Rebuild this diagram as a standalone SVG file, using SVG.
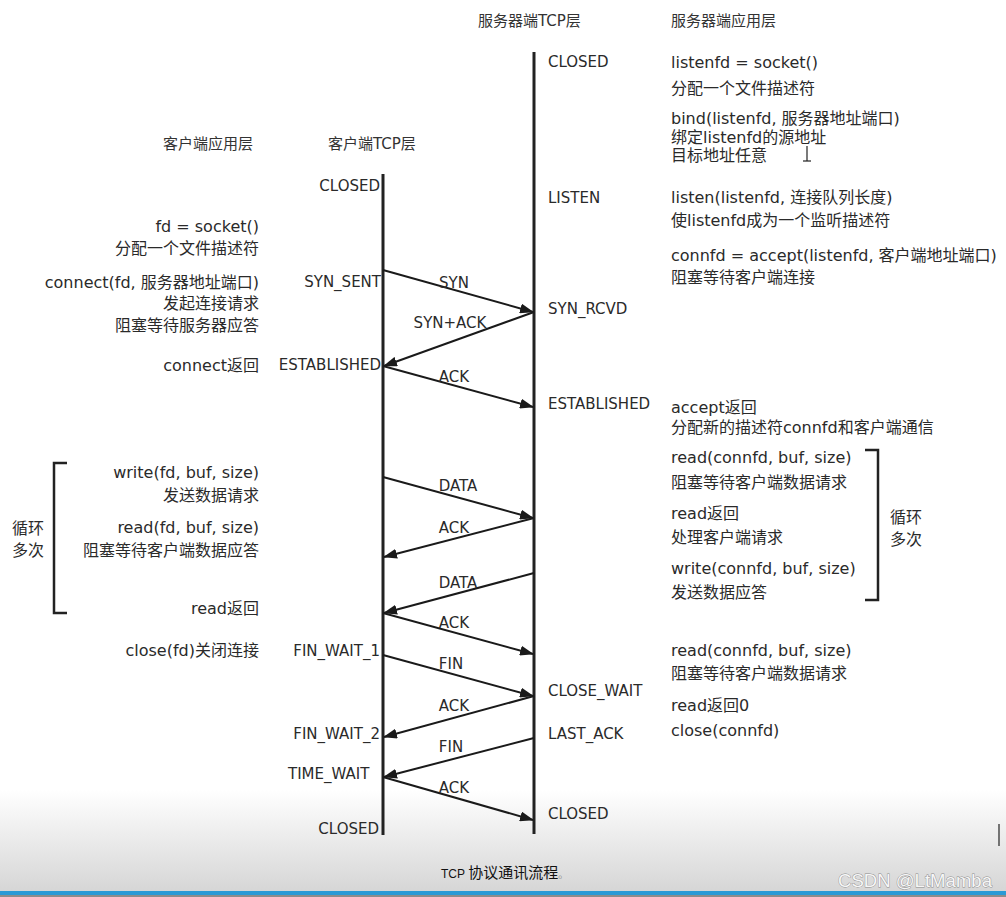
<svg xmlns="http://www.w3.org/2000/svg" width="1006" height="897" viewBox="0 0 1006 897">
  <defs>
    <linearGradient id="bg" x1="0" y1="790" x2="0" y2="891" gradientUnits="userSpaceOnUse">
      <stop offset="0" stop-color="#ffffff"/>
      <stop offset="1" stop-color="#d6d6d6"/>
    </linearGradient>
    <marker id="ah" markerWidth="14" markerHeight="10" refX="13" refY="5" orient="auto" markerUnits="userSpaceOnUse">
      <path d="M0,0 L14,5 L0,10 z" fill="#1a1a1a"/>
    </marker>
    <style>
      .t { font-family: "DejaVu Sans", "Noto Sans CJK SC", sans-serif; font-size: 16px; fill: #2a2a2a; }
      .s { font-family: "DejaVu Sans", "Noto Sans CJK SC", sans-serif; font-size: 15px; fill: #2a2a2a; }
      .h { font-family: "DejaVu Sans", "Noto Sans CJK SC", sans-serif; font-size: 15px; fill: #333; }
      .e { text-anchor: end; }
      .m { text-anchor: middle; }
      .life { stroke: #222; stroke-width: 3; fill: none; }
      .msg { stroke: #1a1a1a; stroke-width: 2; fill: none; marker-end: url(#ah); }
      .br { stroke: #222; stroke-width: 2.5; fill: none; }
    </style>
  </defs>

  <rect x="0" y="0" width="1006" height="897" fill="#ffffff"/>
  <rect x="0" y="790" width="1006" height="101" fill="url(#bg)"/>
  <rect x="0" y="891" width="1006" height="4" fill="#2a9ad6"/>
  <rect x="0" y="895" width="1006" height="2" fill="#8c8c8c"/>

  <!-- headers -->
  <g id="headers">
    <text class="h" x="478" y="26">服务器端TCP层</text>
    <text class="h" x="671" y="26">服务器端应用层</text>
    <text class="h" x="163" y="149">客户端应用层</text>
    <text class="h" x="328" y="149">客户端TCP层</text>
  </g>

  <!-- lifelines -->
  <g id="client-tcp">
    <line class="life" x1="383" y1="174" x2="383" y2="835"/>
    <text class="s e" x="380" y="191">CLOSED</text>
    <text class="s e" x="381" y="287">SYN_SENT</text>
    <text class="s e" x="381" y="370">ESTABLISHED</text>
    <text class="s e" x="380" y="656">FIN_WAIT_1</text>
    <text class="s e" x="380" y="739">FIN_WAIT_2</text>
    <text class="s" x="288" y="779">TIME_WAIT</text>
    <text class="s e" x="379" y="834">CLOSED</text>
  </g>

  <g id="server-tcp">
    <line class="life" x1="534" y1="52" x2="534" y2="834"/>
    <text class="s" x="548" y="67">CLOSED</text>
    <text class="s" x="548" y="203">LISTEN</text>
    <text class="s" x="548" y="314">SYN_RCVD</text>
    <text class="s" x="548" y="409">ESTABLISHED</text>
    <text class="s" x="548" y="696">CLOSE_WAIT</text>
    <text class="s" x="548" y="739">LAST_ACK</text>
    <text class="s" x="548" y="819">CLOSED</text>
  </g>

  <!-- client application layer -->
  <g id="client-app">
    <text class="t e" x="259" y="232">fd = socket()</text>
    <text class="t e" x="259" y="254">分配一个文件描述符</text>
    <text class="t e" x="259" y="288">connect(fd, 服务器地址端口)</text>
    <text class="t e" x="259" y="309">发起连接请求</text>
    <text class="t e" x="259" y="331">阻塞等待服务器应答</text>
    <text class="t e" x="259" y="371">connect返回</text>
    <text class="t e" x="259" y="478">write(fd, buf, size)</text>
    <text class="t e" x="259" y="501">发送数据请求</text>
    <text class="t e" x="259" y="533">read(fd, buf, size)</text>
    <text class="t e" x="259" y="556">阻塞等待客户端数据应答</text>
    <text class="t e" x="259" y="614">read返回</text>
    <text class="t e" x="259" y="656">close(fd)关闭连接</text>
  </g>

  <g id="client-loop">
    <path class="br" d="M67,463 H54 V613 H67"/>
    <text class="t" x="12" y="534">循环</text>
    <text class="t" x="12" y="556">多次</text>
  </g>

  <!-- server application layer -->
  <g id="server-app">
    <text class="t" x="671" y="68">listenfd = socket()</text>
    <text class="t" x="671" y="94">分配一个文件描述符</text>
    <text class="t" x="671" y="124">bind(listenfd, 服务器地址端口)</text>
    <text class="t" x="671" y="143">绑定listenfd的源地址</text>
    <text class="t" x="671" y="161">目标地址任意</text>
    <text class="t" x="671" y="203">listen(listenfd, 连接队列长度)</text>
    <text class="t" x="671" y="226">使listenfd成为一个监听描述符</text>
    <text class="t" x="671" y="261">connfd = accept(listenfd, 客户端地址端口)</text>
    <text class="t" x="671" y="283">阻塞等待客户端连接</text>
    <text class="t" x="671" y="413">accept返回</text>
    <text class="t" x="671" y="433">分配新的描述符connfd和客户端通信</text>
    <text class="t" x="671" y="463">read(connfd, buf, size)</text>
    <text class="t" x="671" y="488">阻塞等待客户端数据请求</text>
    <text class="t" x="671" y="519">read返回</text>
    <text class="t" x="671" y="543">处理客户端请求</text>
    <text class="t" x="671" y="574">write(connfd, buf, size)</text>
    <text class="t" x="671" y="598">发送数据应答</text>
    <text class="t" x="671" y="656">read(connfd, buf, size)</text>
    <text class="t" x="671" y="679">阻塞等待客户端数据请求</text>
    <text class="t" x="671" y="711">read返回0</text>
    <text class="t" x="671" y="736">close(connfd)</text>
  </g>

  <g id="server-loop">
    <path class="br" d="M865,450 H878 V600 H865"/>
    <text class="t" x="890" y="523">循环</text>
    <text class="t" x="890" y="545">多次</text>
  </g>

  <!-- connectors -->
  <g id="connectors">
    <line class="msg" x1="383" y1="270" x2="533" y2="312"/>
    <line class="msg" x1="534" y1="312" x2="384" y2="366"/>
    <line class="msg" x1="383" y1="366" x2="533" y2="407"/>
    <line class="msg" x1="383" y1="477" x2="533" y2="518"/>
    <line class="msg" x1="534" y1="518" x2="384" y2="557"/>
    <line class="msg" x1="534" y1="573" x2="384" y2="613"/>
    <line class="msg" x1="383" y1="613" x2="533" y2="654"/>
    <line class="msg" x1="383" y1="655" x2="533" y2="696"/>
    <line class="msg" x1="534" y1="696" x2="384" y2="737"/>
    <line class="msg" x1="534" y1="738" x2="384" y2="777"/>
    <line class="msg" x1="383" y1="777" x2="533" y2="820"/>
  </g>

  <g id="connector-labels">
    <text class="s m" x="454" y="288">SYN</text>
    <text class="s m" x="450" y="328">SYN+ACK</text>
    <text class="s m" x="454" y="382">ACK</text>
    <text class="s m" x="458" y="491">DATA</text>
    <text class="s m" x="454" y="533">ACK</text>
    <text class="s m" x="458" y="588">DATA</text>
    <text class="s m" x="454" y="628">ACK</text>
    <text class="s m" x="451" y="669">FIN</text>
    <text class="s m" x="454" y="711">ACK</text>
    <text class="s m" x="451" y="752">FIN</text>
    <text class="s m" x="454" y="793">ACK</text>
  </g>

  <!-- cursor artifacts -->
  <g id="cursors" stroke="#222" stroke-width="1.2">
    <line x1="807" y1="146" x2="807" y2="161"/>
    <line x1="803" y1="161" x2="811" y2="161"/>
    <line x1="999" y1="824" x2="999" y2="846"/>
  </g>

  <!-- caption and watermark -->
  <g id="caption">
    <text x="441" y="878" font-family="Liberation Sans, sans-serif" font-size="12" fill="#111">TCP <tspan font-family="Noto Sans CJK SC, sans-serif" font-size="15">协议通讯流程</tspan><tspan font-family="Noto Sans CJK SC, sans-serif" font-size="10" fill="#888">。</tspan></text>
  </g>
  <g id="watermark">
    <text x="838" y="887" font-family="Liberation Sans, sans-serif" font-size="18" textLength="154" lengthAdjust="spacingAndGlyphs" fill="#f6f6f6" stroke="#8a8a8a" stroke-width="0.8" paint-order="stroke">CSDN @LtMamba</text>
  </g>
</svg>
